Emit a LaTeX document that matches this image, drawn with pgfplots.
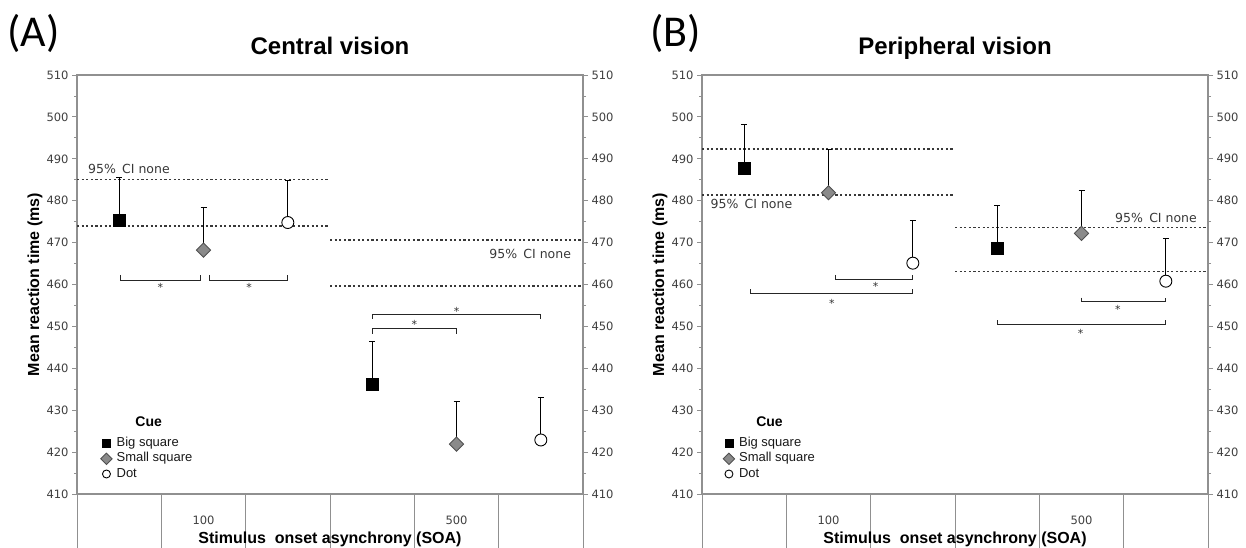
\documentclass[border=0pt]{standalone}
\usepackage{fontspec}
\setmainfont{DejaVu Sans}
\newfontfamily\arialf{Liberation Sans}
\newfontfamily\calf{Carlito}
\usepackage{pgfplots}
\pgfplotsset{compat=1.18}

\definecolor{axgray}{HTML}{909090}
\definecolor{tlab}{HTML}{404040}
\definecolor{dgray}{HTML}{383838}
\definecolor{diafill}{HTML}{8A8A8A}
\definecolor{diadraw}{HTML}{505050}

\pgfplotsset{
 panelgeom/.style={width=506pt, height=419pt, scale only axis, anchor=south west,
   xmin=0, xmax=6, ymin=410, ymax=510},
 ticksty/.style={ytick={410,420,...,510}, minor y tick num=1, tick align=outside,
   major tick length=5pt, minor tick length=3pt,
   tick style={axgray, line width=0.9pt},
   yticklabel style={font=\fontsize{11.5}{13}\selectfont, text=tlab},
   /pgf/number format/assume math mode=true},
 panel/.style={panelgeom, ticksty,
   axis line style={axgray, line width=1.2pt},
   xtick=\empty, ytick pos=left, clip=false,
   ylabel={Mean reaction time (ms)},
   ylabel style={font=\arialf\bfseries\fontsize{16}{18}\selectfont, text=black,
     at={(axis description cs:-0.083,0.5)}, anchor=center},
   xlabel={Stimulus\ \ onset asynchrony (SOA)},
   xlabel style={font=\arialf\bfseries\fontsize{16}{18}\selectfont, text=black,
     at={(axis description cs:0.5,0)}, anchor=center, yshift=-45pt},
   title style={font=\arialf\bfseries\fontsize{24}{28}\selectfont,
     at={(axis description cs:0.5,1)}, anchor=base, yshift=15pt},
   legend style={anchor=north west, draw=none, fill=none, inner sep=0pt,
     font=\arialf\fontsize{13}{15}\selectfont, text=black!90, row sep=0pt,
     nodes={inner sep=1.5pt, text height=9.3pt, text depth=2.9pt}},
   legend cell align=left,
   legend image post style={mark size=4pt},
 },
 rightax/.style={panelgeom, ticksty, axis y line*=right, axis x line=none,
   axis line style={axgray, line width=1.2pt}},
 ebar/.style={error bars/.cd, y dir=plus, y explicit,
   error bar style={black, line width=0.9pt, solid}, error mark options={black, line width=0.9pt, mark size=3pt, rotate=90}},
 bigsq/.style={only marks, mark=square*, mark size=6pt, mark options={fill=black, draw=black}, ebar},
 smsq/.style={only marks, mark=square*, mark size=5pt, mark options={rotate=45, fill=diafill, draw=diadraw, line width=0.9pt}, ebar},
 dotm/.style={only marks, mark=*, mark size=6pt, mark options={fill=white, draw=black, line width=0.9pt}, ebar},
 ciline/.style={forget plot, dgray, line width=1.6pt, dash pattern=on 2.2pt off 2.4pt},
 brk/.style={forget plot, black!85, line width=0.9pt},
}
\newcommand{\sigstar}[2]{\node[font=\fontsize{11}{12}\selectfont, text=black!80, inner sep=0pt, yshift=-2pt] at (axis cs:#1,#2) {*};}
\newcommand{\cilab}[3]{\node[font=\fontsize{12.5}{14}\selectfont, text=dgray, inner sep=0pt, anchor=#3] at (axis cs:#1,#2) {95\%\enspace CI none};}
\newcommand{\catlab}[2]{\node[font=\fontsize{11.5}{13}\selectfont, text=tlab] at (axis cs:#1,410) [yshift=-26pt] {#2};}

\begin{document}
\begin{tikzpicture}
\useasboundingbox (0,0) rectangle (1246pt,-547pt);
\node[font=\calf\fontsize{44}{50}\selectfont, anchor=base west, inner sep=0pt] at (7pt,-46pt) {(A)};
\node[font=\calf\fontsize{44}{50}\selectfont, anchor=base west, inner sep=0pt] at (650pt,-46pt) {(B)};

% ---------------- Panel A ----------------
\begin{axis}[panel, at={(77pt,-494pt)}, title={Central vision},
  legend style={at={(axis cs:0.28,423.9)}}]
\addplot[ciline] coordinates {(0,485.1) (3,485.1)};
\addplot[ciline] coordinates {(0,474.0) (3,474.0)};
\addplot[ciline] coordinates {(3,470.6) (6,470.6)};
\addplot[ciline] coordinates {(3,459.6) (6,459.6)};
\addplot[brk] coordinates {(0.52,462.3) (0.52,461.0) (1.46,461.0) (1.46,462.3)};
\addplot[brk] coordinates {(1.57,462.3) (1.57,461.0) (2.50,461.0) (2.50,462.3)};
\addplot[brk] coordinates {(3.5,448.3) (3.5,449.4) (4.5,449.4) (4.5,448.3)};
\addplot[brk] coordinates {(3.5,451.8) (3.5,452.9) (5.5,452.9) (5.5,451.8)};
\addplot[bigsq] coordinates {(0.5,475.3) +- (0,10.2) (3.5,436.3) +- (0,10.2)};
\addplot[smsq] coordinates {(1.5,468.2) +- (0,10.1) (4.5,421.9) +- (0,10.1)};
\addplot[dotm] coordinates {(2.5,474.8) +- (0,10.1) (5.5,422.9) +- (0,10.2)};
\legend{\hspace{3pt}Big square, \hspace{3pt}Small square, \hspace{3pt}Dot}
\sigstar{0.99}{459.9}\sigstar{2.04}{459.9}\sigstar{4.0}{450.9}\sigstar{4.5}{454.1}
\cilab{0.13}{487.5}{west}
\cilab{5.86}{467.4}{east}
\node[font=\arialf\bfseries\fontsize{14}{16}\selectfont] at (axis cs:0.85,427.3) {Cue};
\catlab{1.5}{100}\catlab{4.5}{500}
\draw[axgray, line width=0.9pt] (axis cs:0,410) -- ++(0,-45pt);
\draw[axgray, line width=0.9pt] (axis cs:1,410) -- ++(0,-21pt);
\draw[axgray, line width=0.9pt] (axis cs:2,410) -- ++(0,-20pt);
\draw[axgray, line width=0.9pt] (axis cs:3,410) -- ++(0,-34pt);
\draw[axgray, line width=0.9pt] (axis cs:4,410) -- ++(0,-20pt);
\draw[axgray, line width=0.9pt] (axis cs:5,410) -- ++(0,-21pt);
\draw[axgray, line width=0.9pt] (axis cs:6,410) -- ++(0,-34pt);
\end{axis}
\begin{axis}[rightax, at={(77pt,-494pt)}]
\addplot[draw=none, forget plot] coordinates {(0,410)};
\end{axis}

% ---------------- Panel B ----------------
\begin{axis}[panel, at={(702pt,-494pt)}, title={Peripheral vision},
  legend style={at={(axis cs:0.25,423.9)}}]
\addplot[ciline] coordinates {(0,492.3) (3,492.3)};
\addplot[ciline] coordinates {(0,481.4) (3,481.4)};
\addplot[ciline] coordinates {(3,473.6) (6,473.6)};
\addplot[ciline] coordinates {(3,463.1) (6,463.1)};
\addplot[brk] coordinates {(1.58,462.3) (1.58,461.3) (2.50,461.3) (2.50,462.3)};
\addplot[brk] coordinates {(0.57,458.9) (0.57,457.9) (2.50,457.9) (2.50,458.9)};
\addplot[brk] coordinates {(4.5,456.9) (4.5,455.9) (5.49,455.9) (5.49,456.9)};
\addplot[brk] coordinates {(3.5,451.5) (3.5,450.5) (5.5,450.5) (5.5,451.5)};
\addplot[bigsq] coordinates {(0.5,487.7) +- (0,10.5) (3.5,468.6) +- (0,10.2)};
\addplot[smsq] coordinates {(1.5,481.9) +- (0,10.3) (4.5,472.2) +- (0,10.2)};
\addplot[dotm] coordinates {(2.5,465.1) +- (0,10.1) (5.5,460.8) +- (0,10.3)};
\legend{\hspace{3pt}Big square, \hspace{3pt}Small square, \hspace{3pt}Dot}
\sigstar{2.06}{460.1}\sigstar{1.54}{455.9}\sigstar{4.93}{454.5}\sigstar{4.49}{448.8}
\cilab{0.10}{479.2}{west}
\cilab{5.87}{476.0}{east}
\node[font=\arialf\bfseries\fontsize{14}{16}\selectfont] at (axis cs:0.80,427.3) {Cue};
\catlab{1.5}{100}\catlab{4.5}{500}
\draw[axgray, line width=0.9pt] (axis cs:0,410) -- ++(0,-33pt);
\draw[axgray, line width=0.9pt] (axis cs:1,410) -- ++(0,-19pt);
\draw[axgray, line width=0.9pt] (axis cs:2,410) -- ++(0,-20pt);
\draw[axgray, line width=0.9pt] (axis cs:3,410) -- ++(0,-33pt);
\draw[axgray, line width=0.9pt] (axis cs:4,410) -- ++(0,-19pt);
\draw[axgray, line width=0.9pt] (axis cs:5,410) -- ++(0,-23pt);
\draw[axgray, line width=0.9pt] (axis cs:6,410) -- ++(0,-44pt);
\end{axis}
\begin{axis}[rightax, at={(702pt,-494pt)}]
\addplot[draw=none, forget plot] coordinates {(0,410)};
\end{axis}
\end{tikzpicture}
\end{document}
